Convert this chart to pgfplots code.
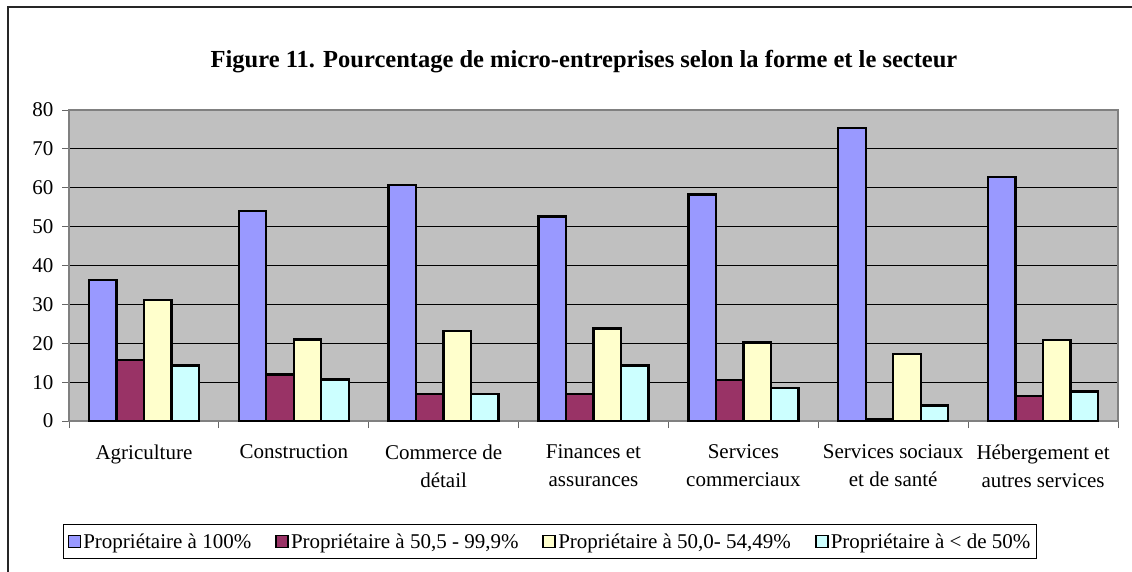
\documentclass[border=0pt]{standalone}
\usepackage{fontspec}
\setmainfont{Liberation Serif}
\usepackage{pgfplots}
\pgfplotsset{compat=1.18}
\definecolor{cA}{HTML}{9999FF}
\definecolor{cB}{HTML}{993366}
\definecolor{cC}{HTML}{FFFFCC}
\definecolor{cD}{HTML}{CCFFFF}
\definecolor{plotbg}{HTML}{C0C0C0}
\newcommand{\fs}{\fontsize{21}{28}\selectfont}
\begin{document}
\begin{tikzpicture}
\useasboundingbox (0,0) rectangle (1132pt,571pt);
\fill[white] (0,0) rectangle (1132pt,571pt);
\draw[line width=2pt, black!85] (8pt,-10pt) -- (8pt,564pt) -- (1145pt,564pt);
\node[font=\bfseries\fontsize{24.5}{30}\selectfont, anchor=base] at (584pt,503pt) {Figure 11. Pourcentage de micro-entreprises selon la forme et le secteur};
\begin{axis}[
  at={(69pt,150pt)}, anchor=south west,
  scale only axis, width=1049pt, height=311pt,
  ybar=0pt, bar width=0.1835,
  xmin=-0.5, xmax=6.5, ymin=0, ymax=80,
  ytick={0,10,...,80},
  xtick={-0.5,0.5,...,6.5}, xticklabels={},
  extra x ticks={0,1,2,3,4,5,6},
  extra x tick labels={Agriculture,Construction,{Commerce de\\détail},{Finances et\\assurances},{Services\\commerciaux},{Services sociaux\\et de santé},{Hébergement et\\autres services}},
  extra x tick style={major tick length=0pt, grid=none},
  xticklabel style={font=\fs, align=center, yshift=-20pt},
  yticklabel style={font=\fs, xshift=-5pt},
  /pgf/number format/assume math mode=true,
  xtick pos=bottom, ytick pos=left,
  tick align=outside, major tick length=7pt,
  tick style={black!60, line width=1pt},
  ymajorgrids, grid style={black, line width=1pt},
  axis background/.style={fill=plotbg},
  axis line style={black!50, line width=2pt},
  legend columns=4,
  legend style={at={(-0.0057,-0.331)}, anchor=north west, font=\fs, draw=black, line width=1pt, inner xsep=4pt, inner ysep=7pt,
    /tikz/every even column/.append style={column sep=22pt}},
  legend image code/.code={\draw[#1, draw=black, line width=1.8pt] (0pt,-6pt) rectangle (12pt,6pt);},
]
\addplot[fill=cA, draw=black, line width=2.4pt] coordinates {(0,36.3) (1,54.0) (2,60.7) (3,52.6) (4,58.3) (5,75.3) (6,62.8)};
\addplot[fill=cB, draw=black, line width=2.4pt] coordinates {(0,15.7) (1,12.0) (2,7.0) (3,6.9) (4,10.6) (5,0.5) (6,6.4)};
\addplot[fill=cC, draw=black, line width=2.4pt] coordinates {(0,31.1) (1,21.0) (2,23.2) (3,23.8) (4,20.2) (5,17.2) (6,20.9)};
\addplot[fill=cD, draw=black, line width=2.4pt] coordinates {(0,14.3) (1,10.7) (2,7.0) (3,14.3) (4,8.5) (5,4.0) (6,7.6)};
\legend{{Propriétaire à 100\%}, {Propriétaire à 50,5 - 99,9\%}, {Propriétaire à 50,0- 54,49\%}, {Propriétaire à < de 50\%\hspace{23pt}}}
\end{axis}
\end{tikzpicture}
\end{document}
